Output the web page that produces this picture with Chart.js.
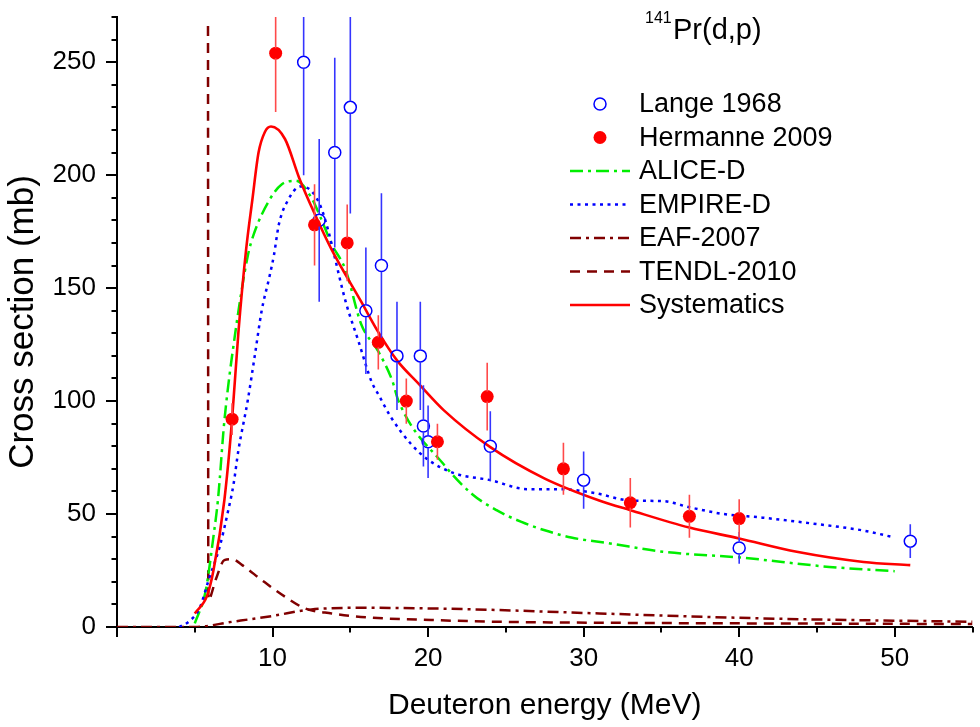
<!DOCTYPE html>
<html><head><meta charset="utf-8">
<script src="https://cdn.jsdelivr.net/npm/chart.js@4/dist/chart.umd.min.js"></script>
<style>html,body{margin:0;padding:0;background:#fff}canvas{display:block}</style>
</head><body>
<canvas id="c" width="980" height="727"></canvas>
<script>
// ---- data ----
const langeX   = [12, 13, 14, 15, 16, 17, 18, 19.5, 19.7, 20, 24, 30, 40, 51];
const langeY   = [250, 180, 210, 230, 140, 160, 120, 120, 89, 82, 80, 65, 35, 38];
const langeErr = [50, 36, 42, 47, 28, 32, 24, 24, 18, 16, 15.5, 12.7, 7, 7.5];

const hermX   = [7.4, 10.2, 12.7, 14.8, 16.8, 18.6, 20.6, 23.8, 28.7, 33, 36.8, 40];
const hermY   = [92, 254, 178, 170, 126, 100, 82, 102, 70, 55, 49, 48];
const hermErr = [7, 26, 18, 17, 12, 10, 8, 15, 11.5, 11, 9.5, 8.5];

const aliceX = [5, 5.7, 6.2, 6.5, 6.9, 7.6, 8.4, 8.8, 9.8, 10.6, 11.5, 12.5, 13.1, 13.8, 14.7, 15.7, 16.8, 17.7, 18.1, 21, 22.8, 24.4, 26, 27.5, 29.2, 31.7, 35.1, 40, 45.8, 50];
const aliceY = [1.6, 16, 40, 57, 91, 130, 164, 174, 189, 196, 197.5, 190, 181, 169.5, 158, 134, 122, 109, 100, 72, 59, 51.7, 46.5, 42.8, 39.6, 37, 33.3, 30.8, 26.6, 24.7];

const empireX = [4, 4.6, 5.3, 5.9, 6.6, 7.1, 7.5, 7.8, 8.4, 8.9, 9.3, 9.8, 10.1, 10.4, 11.0, 11.8, 12.5, 13.1, 13.6, 13.9, 14.7, 15.5, 16.4, 16.8, 17.6, 18.9, 20, 21.7, 24, 26.4, 28.5, 30.7, 33, 35.1, 36.8, 39, 41.5, 44.7, 47.9, 50];
const empireY = [0, 2.3, 8.2, 21, 35.5, 50, 63.5, 78, 100, 122, 140, 155, 165, 178, 189, 195, 193, 186, 175, 166.5, 144, 127, 108, 103, 93, 81, 74, 68, 65, 61, 61, 59.3, 56, 55.7, 53, 50, 48.4, 45.8, 42.8, 39.6];

const eafX = [0, 5, 7.4, 10, 12.5, 16, 20.2, 24.5, 31, 41.5, 55];
const eafY = [0, 0, 2.3, 4.9, 7.8, 8.5, 8.2, 7.5, 6, 3.8, 2.3];

const tendlX = [5.85, 5.87, 6.35, 6.9, 7.4, 8.05, 9.3, 10.8, 12.1, 13.8, 16, 20.2, 24.5, 31, 55];
const tendlY = [266, 12, 21, 29.6, 30, 27.4, 20.8, 13.4, 8.2, 6, 4.3, 3.1, 2.3, 1.9, 1.3];

const sysX = [5, 5.8, 6.2, 6.9, 7.4, 7.8, 8.3, 8.7, 9.1, 9.5, 9.9, 10.8, 11.7, 12.7, 13.8, 15.7, 16.8, 18, 19.4, 21, 24, 27.5, 31, 33, 36.8, 40, 43.7, 48, 51];
const sysY = [6, 14, 25, 56, 92, 130, 167, 189, 210, 219, 221.5, 216, 199, 183, 167, 144, 130.5, 118, 107.6, 96, 79.6, 65.7, 56, 51.7, 44, 39.2, 33.3, 28.8, 27.4];

const xTickLabels = [10, 20, 30, 40, 50];
const yTickLabels = [0, 50, 100, 150, 200, 250];

const pts = (xs, ys) => xs.map((v, i) => ({x: v, y: ys[i]}));

const FONT = "'Liberation Sans', Arial, sans-serif";
Chart.defaults.font.family = FONT;
Chart.defaults.color = '#000';

const DASH_ALICE = [13, 5, 3, 5];
const DASH_EMPIRE = [3, 4.5];
const DASH_EAF = [11, 5, 3, 5];
const DASH_TENDL = [10, 7];

const legendItems = [
  {label: 'Lange 1968', type: 'open', color: '#0000ff'},
  {label: 'Hermanne 2009', type: 'filled', color: '#ff0000'},
  {label: 'ALICE-D', type: 'line', color: '#00ee00', dash: DASH_ALICE},
  {label: 'EMPIRE-D', type: 'line', color: '#0000ff', dash: DASH_EMPIRE},
  {label: 'EAF-2007', type: 'line', color: '#800000', dash: DASH_EAF},
  {label: 'TENDL-2010', type: 'line', color: '#800000', dash: DASH_TENDL},
  {label: 'Systematics', type: 'line', color: '#ff0000', dash: []}
];

const overlay = {
  id: 'overlay',
  afterDatasetsDraw(chart) {
    const {ctx, chartArea: a, scales: {x, y}} = chart;
    ctx.save();
    ctx.beginPath();
    ctx.rect(a.left, a.top, a.right - a.left, a.bottom - a.top);
    ctx.clip();
    const drawErr = (xs, ys, es, color, gap) => {
      ctx.strokeStyle = color;
      ctx.lineWidth = 1.6;
      ctx.setLineDash([]);
      xs.forEach((v, i) => {
        const px = x.getPixelForValue(v);
        const pc = y.getPixelForValue(ys[i]);
        const pt = y.getPixelForValue(ys[i] + es[i]);
        const pb = y.getPixelForValue(ys[i] - es[i]);
        ctx.beginPath();
        ctx.moveTo(px, pt); ctx.lineTo(px, pc - gap);
        ctx.moveTo(px, pc + gap); ctx.lineTo(px, pb);
        ctx.stroke();
      });
    };
    drawErr(langeX, langeY, langeErr, '#3535ff', 6.2);
    drawErr(hermX, hermY, hermErr, '#ff4a4a', 5);
    ctx.restore();
  },
  afterDraw(chart) {
    const {ctx, chartArea: a, scales: {x, y}} = chart;
    ctx.save();
    // tick marks (major + minor)
    ctx.strokeStyle = '#000';
    ctx.lineWidth = 2;
    ctx.setLineDash([]);
    for (let v = 0; v <= 270; v += 10) {
      const py = Math.round(y.getPixelForValue(v));
      const len = v % 50 === 0 ? 11 : 5.5;
      ctx.beginPath(); ctx.moveTo(a.left, py); ctx.lineTo(a.left - len, py); ctx.stroke();
    }
    for (let v = 0; v <= 55; v += 5) {
      const px = Math.round(x.getPixelForValue(v));
      const len = v % 10 === 0 ? 10 : 5.5;
      ctx.beginPath(); ctx.moveTo(px, a.bottom); ctx.lineTo(px, a.bottom + len); ctx.stroke();
    }
    // reaction label
    ctx.fillStyle = '#000';
    ctx.textBaseline = 'alphabetic';
    ctx.textAlign = 'left';
    ctx.font = '16px ' + FONT;
    ctx.fillText('141', 645, 23);
    ctx.font = '29px ' + FONT;
    ctx.fillText('Pr(d,p)', 673, 39);
    // legend
    const rows = [104, 137.5, 171, 204.5, 238, 271.5, 305];
    legendItems.forEach((it, i) => {
      const yy = rows[i];
      if (it.type === 'open' || it.type === 'filled') {
        ctx.beginPath();
        ctx.setLineDash([]);
        ctx.arc(600, yy, it.type === 'open' ? 6 : 6.5, 0, Math.PI * 2);
        if (it.type === 'filled') { ctx.fillStyle = it.color; ctx.fill(); }
        else { ctx.strokeStyle = it.color; ctx.lineWidth = 1.5; ctx.stroke(); }
      } else {
        ctx.beginPath();
        ctx.strokeStyle = it.color;
        ctx.lineWidth = 2.5;
        ctx.setLineDash(it.dash);
        ctx.moveTo(570, yy); ctx.lineTo(630, yy);
        ctx.stroke();
      }
      ctx.setLineDash([]);
      ctx.fillStyle = '#000';
      ctx.font = '27px ' + FONT;
      ctx.textBaseline = 'middle';
      ctx.fillText(it.label, 639, yy + 1);
    });
    ctx.restore();
  }
};

const lineDs = (label, xs, ys, color, dash, order, width) => ({
  label, data: pts(xs, ys), borderColor: color, backgroundColor: color,
  borderWidth: width || 2.5, borderDash: dash, pointRadius: 0, fill: false,
  showLine: true, cubicInterpolationMode: 'monotone', order
});

new Chart(document.getElementById('c'), {
  type: 'scatter',
  data: {
    datasets: [
      {label: 'Hermanne 2009', data: pts(hermX, hermY), pointRadius: 6.5, pointStyle: 'circle',
       backgroundColor: '#ff0000', borderColor: '#ff0000', borderWidth: 0, showLine: false, order: 0},
      {label: 'Lange 1968', data: pts(langeX, langeY), pointRadius: 6, pointStyle: 'circle',
       backgroundColor: 'rgba(255,255,255,0)', borderColor: '#0000ff', borderWidth: 1.5, showLine: false, order: 1},
      lineDs('Systematics', sysX, sysY, '#ff0000', [], 2, 2.6),
      lineDs('EMPIRE-D', empireX, empireY, '#0000ff', DASH_EMPIRE, 3),
      lineDs('ALICE-D', aliceX, aliceY, '#00ee00', DASH_ALICE, 4),
      lineDs('EAF-2007', eafX, eafY, '#800000', DASH_EAF, 5),
      lineDs('TENDL-2010', tendlX, tendlY, '#800000', DASH_TENDL, 6)
    ]
  },
  options: {
    responsive: false,
    animation: false,
    layout: {padding: {top: 17, right: 3, left: 0, bottom: 0}},
    plugins: {legend: {display: false}, tooltip: {enabled: false}},
    scales: {
      x: {
        type: 'linear', min: 0, max: 55,
        grid: {display: false, drawTicks: false},
        border: {display: true, color: '#000', width: 2},
        ticks: {stepSize: 5, autoSkip: false, maxRotation: 0, padding: 16, color: '#000',
          font: {size: 26},
          callback: v => xTickLabels.includes(v) ? String(v) : ''},
        title: {display: true, text: 'Deuteron energy (MeV)', color: '#000',
          font: {size: 30}, padding: {top: 0, bottom: 3}},
        afterFit: s => { s.height = 100; s.paddingLeft = 0; s.paddingRight = 0; }
      },
      y: {
        type: 'linear', min: 0, max: 270,
        grid: {display: false, drawTicks: false},
        border: {display: true, color: '#000', width: 2},
        ticks: {stepSize: 10, autoSkip: false, padding: 21, color: '#000',
          font: {size: 26},
          callback: v => yTickLabels.includes(v) ? String(v) : ''},
        title: {display: true, text: 'Cross section (mb)', color: '#000',
          font: {size: 35}, padding: {top: 2, bottom: 0}},
        afterFit: s => { s.width = 117; s.paddingTop = 0; s.paddingBottom = 0; }
      }
    }
  },
  plugins: [overlay]
});
</script>
</body></html>
